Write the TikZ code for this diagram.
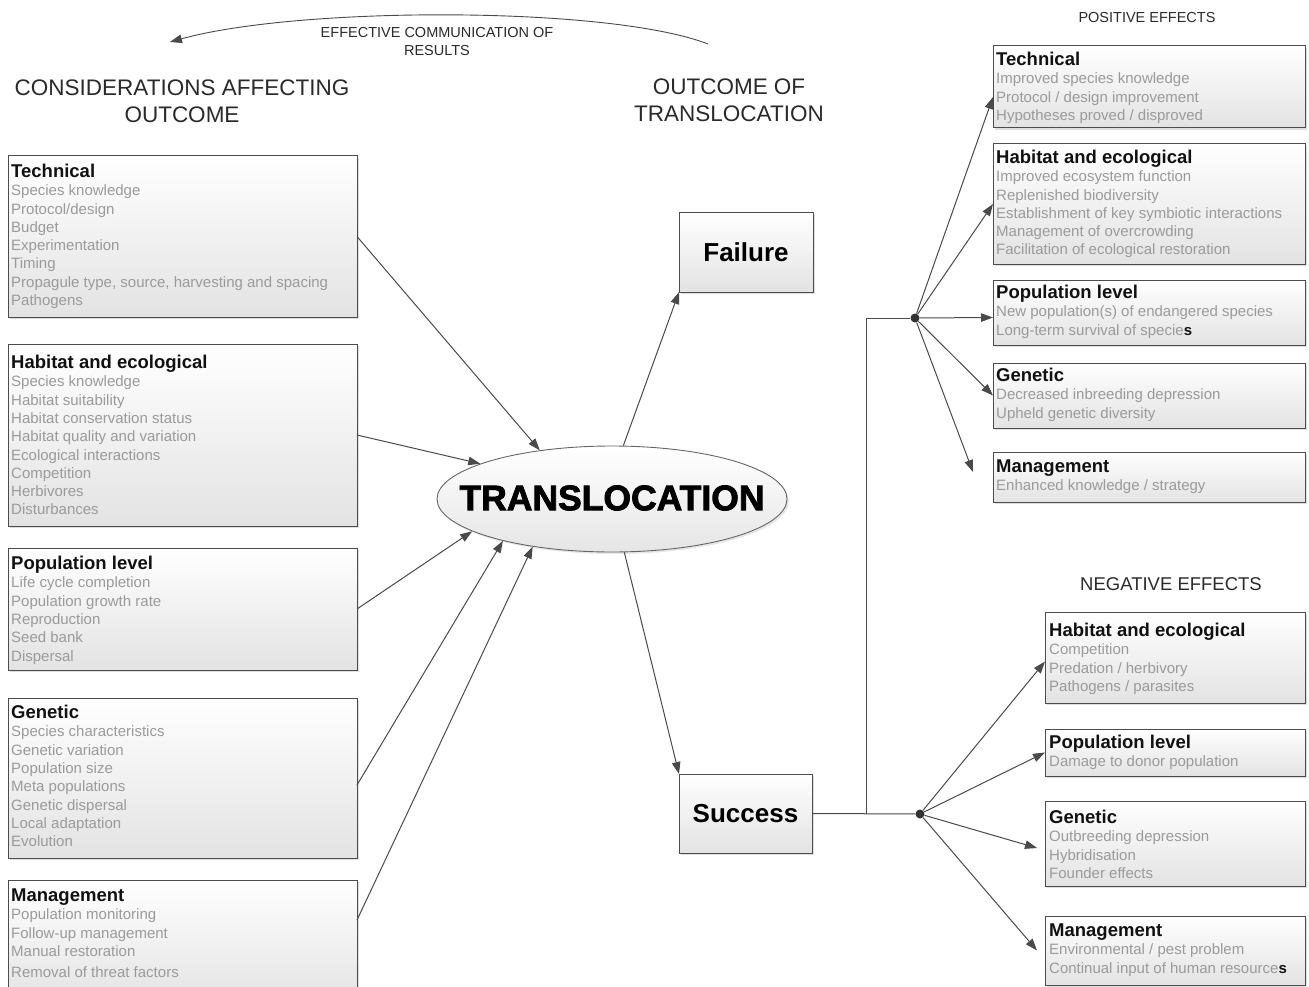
\documentclass[tikz,border=0pt]{standalone}
\usepackage{fontspec}
\setmainfont{Liberation Sans}
\newfontfamily\heavyfont[FakeBold=2.2]{Liberation Sans Bold}
\usetikzlibrary{arrows.meta,shadows,shapes.geometric}
\definecolor{itemcol}{HTML}{9A9A9A}
\definecolor{titlecol}{HTML}{111111}
\definecolor{linecol}{HTML}{4A4A4A}
\definecolor{headcol}{HTML}{2A2A2A}
\newcommand\boxtxt[2]{\vtop{\hsize=330pt\parindent=0pt\parskip=0pt\raggedright
  \baselineskip=18.3pt\lineskiplimit=-20pt
  {\leavevmode\fontsize{18.5}{18.3}\selectfont\bfseries\color{titlecol}#1\par}%
  {\leavevmode\fontsize{15}{18.3}\selectfont\color{itemcol}#2\par}}}
\newcommand\dks{{\color{titlecol}\bfseries s}}
\begin{document}
\begin{tikzpicture}[x=1pt,y=-1pt,
  cbox/.style={draw=black!70, line width=1pt, top color=white, bottom color=black!11,
    anchor=north west, inner sep=0pt, outer sep=0pt,
    drop shadow={shadow xshift=2pt, shadow yshift=-2pt, fill=black!35, opacity=0.35}},
  txt/.style={anchor=base west, inner sep=0pt},
  arr/.style={draw=linecol, line width=1pt, -{Triangle[length=12pt,width=8.5pt]}},
  plain/.style={draw=linecol, line width=1pt},
  dot/.style={circle, fill=black!80, inner sep=0pt, minimum size=9pt},
  head/.style={align=center, inner sep=0pt, text=headcol}]
\useasboundingbox (0,0) rectangle (1309,987);
\fill[white] (0,0) rectangle (1309,987);

% headings
\node[head, font=\fontsize{14.5}{18}\selectfont] (comm) at (437,42) {EFFECTIVE COMMUNICATION OF\\RESULTS};
\coordinate (arcS) at (708,44);
\coordinate (arcE) at (170,42);
\draw[arr, line width=0.9pt] (arcS) .. controls (610,6) and (300,6) .. (arcE);
\node[head, font=\fontsize{22.5}{27}\selectfont] (hcons) at (182,101.5) {CONSIDERATIONS AFFECTING\\OUTCOME};
\node[head, font=\fontsize{22.5}{27}\selectfont] (hout) at (729,100) {OUTCOME OF\\TRANSLOCATION};
\node[head, font=\fontsize{14.5}{18}\selectfont] (hpos) at (1147,18) {POSITIVE EFFECTS};
\node[head, font=\fontsize{18.5}{22}\selectfont] (hneg) at (1171,584) {NEGATIVE EFFECTS};

% left boxes
\node[cbox, minimum width=349pt, minimum height=161pt] (lt) at (8,156) {};
\node[txt] (ltt) at (11,177.5) {\boxtxt{Technical}{Species knowledge\\Protocol/design\\Budget\\Experimentation\\Timing\\Propagule type, source, harvesting and spacing\\Pathogens}};
\node[cbox, minimum width=349pt, minimum height=182pt] (lh) at (8,344) {};
\node[txt] (lht) at (11,368.5) {\boxtxt{Habitat and ecological}{Species knowledge\\Habitat suitability\\Habitat conservation status\\Habitat quality and variation\\Ecological interactions\\Competition\\Herbivores\\Disturbances}};
\node[cbox, minimum width=349pt, minimum height=122pt] (lp) at (8,548) {};
\node[txt] (lpt) at (11,569.5) {\boxtxt{Population level}{Life cycle completion\\Population growth rate\\Reproduction\\Seed bank\\Dispersal}};
\node[cbox, minimum width=349pt, minimum height=160pt] (lg) at (8,698) {};
\node[txt] (lgt) at (11,718.5) {\boxtxt{Genetic}{Species characteristics\\Genetic variation\\Population size\\Meta populations\\Genetic dispersal\\Local adaptation\\Evolution}};
\node[cbox, minimum width=349pt, minimum height=125pt] (lm) at (8,880) {};
\node[txt] (lmt) at (11,901.5) {\boxtxt{Management}{Population monitoring\\Follow-up management\\Manual restoration\\[2.5pt]Removal of threat factors}};

% centre
\node[ellipse, draw=black!60, line width=0.9pt, top color=white, bottom color=black!10,
  minimum width=350pt, minimum height=106pt, inner sep=0pt,
  drop shadow={shadow xshift=2pt, shadow yshift=-2pt, fill=black!30, opacity=0.3}] (tr) at (612,499) {};
\node[inner sep=0pt] (trl) at (612,498) {\heavyfont\fontsize{35.5}{36}\selectfont TRANSLOCATION};

\node[cbox, minimum width=134pt, minimum height=79pt] (fail) at (679,213) {};
\node[inner sep=0pt, font=\fontsize{26}{26}\selectfont\bfseries] (failt) at (fail.center) {Failure};
\node[cbox, minimum width=133pt, minimum height=79pt] (succ) at (679,774) {};
\node[inner sep=0pt, font=\fontsize{26}{26}\selectfont\bfseries] (succt) at (succ.center) {Success};

% positive boxes
\node[cbox, minimum width=312pt, minimum height=82pt] (ptech) at (993,46) {};
\node[txt] (ptecht) at (996,65.5) {\boxtxt{Technical}{Improved species knowledge\\Protocol / design improvement\\Hypotheses proved / disproved}};
\node[cbox, minimum width=312pt, minimum height=120pt] (phab) at (993,144) {};
\node[txt] (phabt) at (996,163.5) {\boxtxt{Habitat and ecological}{Improved ecosystem function\\Replenished biodiversity\\Establishment of key symbiotic interactions\\Management of overcrowding\\Facilitation of ecological restoration}};
\node[cbox, minimum width=312pt, minimum height=65pt] (ppop) at (993,280) {};
\node[txt] (ppopt) at (996,298.5) {\boxtxt{Population level}{New population(s) of endangered species\\Long-term survival of specie\dks}};
\node[cbox, minimum width=312pt, minimum height=65pt] (pgen) at (993,363) {};
\node[txt] (pgent) at (996,381.5) {\boxtxt{Genetic}{Decreased inbreeding depression\\Upheld genetic diversity}};
\node[cbox, minimum width=312pt, minimum height=50pt] (pman) at (993,452) {};
\node[txt] (pmant) at (996,472.5) {\boxtxt{Management}{Enhanced knowledge / strategy}};

% negative boxes
\node[cbox, minimum width=260pt, minimum height=91pt] (nhab) at (1045,612) {};
\node[txt] (nhabt) at (1049,636.5) {\boxtxt{Habitat and ecological}{Competition\\Predation / herbivory\\Pathogens / parasites}};
\node[cbox, minimum width=260pt, minimum height=47pt] (npop) at (1045,729) {};
\node[txt] (npopt) at (1049,748.5) {\boxtxt{Population level}{Damage to donor population}};
\node[cbox, minimum width=260pt, minimum height=85pt] (ngen) at (1045,801) {};
\node[txt] (ngent) at (1049,823.5) {\boxtxt{Genetic}{Outbreeding depression\\Hybridisation\\Founder effects}};
\node[cbox, minimum width=260pt, minimum height=69pt] (nman) at (1045,916) {};
\node[txt] (nmant) at (1049,936.5) {\boxtxt{Management}{Environmental / pest problem\\Continual input of human resource\dks}};

% left arrows into translocation
\draw[arr] (lt.east) -- (tr.146.8);
\draw[arr] (lh.east) -- (tr.165.9);
\draw[arr] (lp.east) -- (tr.193.5);
\draw[arr] ([yshift=-7pt]lg.east) -- (tr.201.4);
\draw[arr] ([yshift=-40pt]lm.north east) -- (tr.211.9);

% outcomes
\draw[arr] (tr.78) -- (fail.south west);
\draw[arr] (tr.-77) -- (succ.north west);

% branching
\node[dot] (pd) at (915,318) {};
\node[dot] (nd) at (920,814) {};
\coordinate (j) at (866,813.5);
\draw[plain] (succ.east) -- (nd);
\draw[plain] (j) |- (pd);

\draw[arr] (pd) -- ([yshift=-10pt]ptech.west);
\draw[arr] (pd) -- (phab.west);
\draw[arr] (pd) -- ([yshift=-5pt]ppop.west);
\draw[arr] (pd) -- (pgen.west);
\draw[arr] (pd) -- ([xshift=-20pt,yshift=5pt]pman.west);

\draw[arr] (nd) -- ([yshift=-4pt]nhab.west);
\draw[arr] (nd) -- (npop.west);
\draw[arr] (nd) -- ([xshift=-8pt,yshift=-4.5pt]ngen.west);
\draw[arr] (nd) -- ([xshift=-8pt]nman.west);
\end{tikzpicture}
\end{document}
